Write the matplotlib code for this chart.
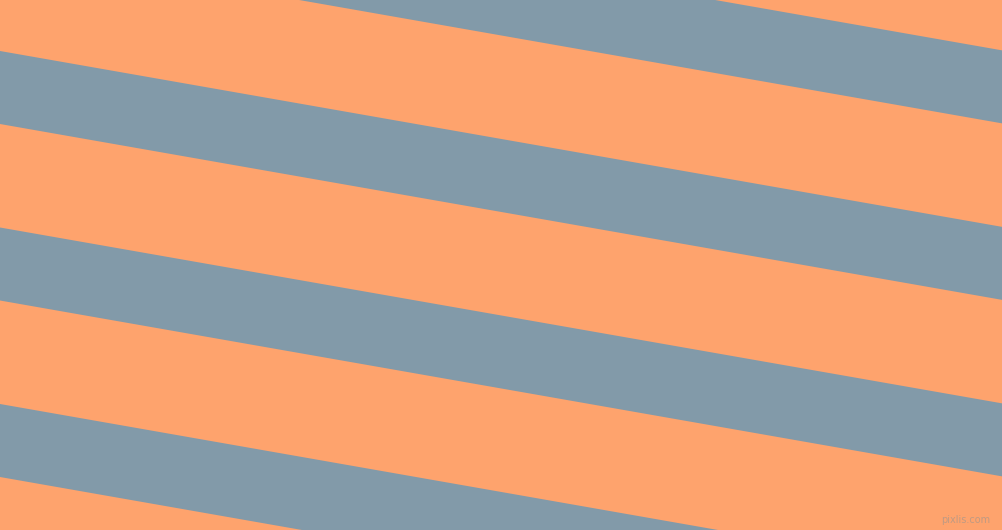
import matplotlib
matplotlib.use("Agg")
import matplotlib.pyplot as plt
import numpy as np

# stripe data (pixel units of the picture, y grows downward)
stripe_tops = [-125.5, 51.0, 227.5, 404.0]   # top edge of each blue band at x = 0
band_height = 73.0                            # vertical thickness of blue bands
slope = 0.1755                                # drop in y per x (about 10 degrees)

W, H = 1002, 530
bg_color = "#fea36d"
band_color = "#829aa9"

fig = plt.figure(figsize=(W / 100, H / 100), dpi=100)
ax = fig.add_axes([0, 0, 1, 1])
ax.set_facecolor(bg_color)
fig.patch.set_facecolor(bg_color)

# run a little past the edges so no seam shows at x = 0
x = np.array([-20, W + 20])
for top in stripe_tops:
    y1 = top + slope * x
    y2 = y1 + band_height
    ax.fill_between(x, y1, y2, color=band_color, linewidth=0)

# faint watermark
ax.text(990, 520, "pixlis.com", color="#b09888", fontsize=7,
        ha="right", va="center", alpha=0.8)

ax.set_xlim(0, W)
ax.set_ylim(H, 0)
ax.axis("off")

fig.savefig("out.png", dpi=100, facecolor=bg_color)
